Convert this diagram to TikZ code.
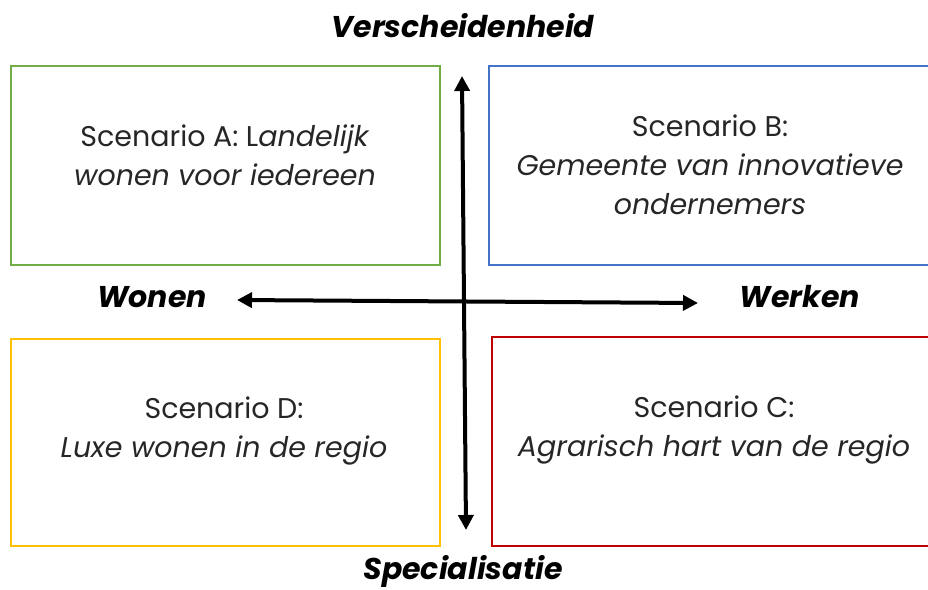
\documentclass[tikz,border=0pt]{standalone}
\usepackage{fontspec}
\setmainfont{Poppins}
\usetikzlibrary{arrows.meta}
\definecolor{cA}{HTML}{70AD47}
\definecolor{cB}{HTML}{4472C4}
\definecolor{cC}{HTML}{C00000}
\definecolor{cD}{HTML}{FFC000}
\tikzset{tip/.tip={Triangle[width=15pt,length=15pt]}}
\begin{document}
\begin{tikzpicture}[x=1pt,y=-1pt,
  box/.style={draw=#1,line width=2pt,inner sep=0pt,anchor=north west},
  boxtext/.style={align=center,font=\fontsize{28.5}{39}\selectfont,text=black!85,inner sep=0pt},
  axislabel/.style={font=\fontsize{30}{34}\selectfont\bfseries\itshape,inner sep=0pt},
  axis/.style={line width=4pt,tip-tip}]
\useasboundingbox (0,0) rectangle (928,589);
\node[box=cA,minimum width=429pt,minimum height=199pt] (A) at (10,65) {};
\node[box=cB,minimum width=441pt,minimum height=199pt] (B) at (488,65) {};
\node[box=cD,minimum width=429pt,minimum height=207pt] (D) at (10,338) {};
\node[box=cC,minimum width=438pt,minimum height=209pt] (C) at (491,336) {};
\node[boxtext] (tA) at (225,155) {Scenario A: L\textit{andelijk}\\\textit{wonen voor iedereen}};
\node[boxtext] (tB) at (710,165) {Scenario B:\\\textit{Gemeente van innovatieve}\\\textit{ondernemers}};
\node[boxtext] (tD) at (224,431) {Scenario D:\\\textit{Luxe wonen in de regio}};
\node[boxtext] (tC) at (714,430) {Scenario C:\\\textit{Agrarisch hart van de regio}};
\node[axislabel,anchor=base] (top) at (463,37) {Verscheidenheid};
\node[axislabel,anchor=base] (bot) at (463,579) {Specialisatie};
\node[axislabel] (wonen) at (152,297) {Wonen};
\node[axislabel] (werken) at (800,297) {Werken};
\coordinate (vt) at (462,76);
\coordinate (vb) at (466,530);
\coordinate (hl) at (237,300);
\coordinate (hr) at (698,303);
\draw[axis] (vb) -- (vt);
\draw[axis] (hl) -- (hr);
\end{tikzpicture}
\end{document}
